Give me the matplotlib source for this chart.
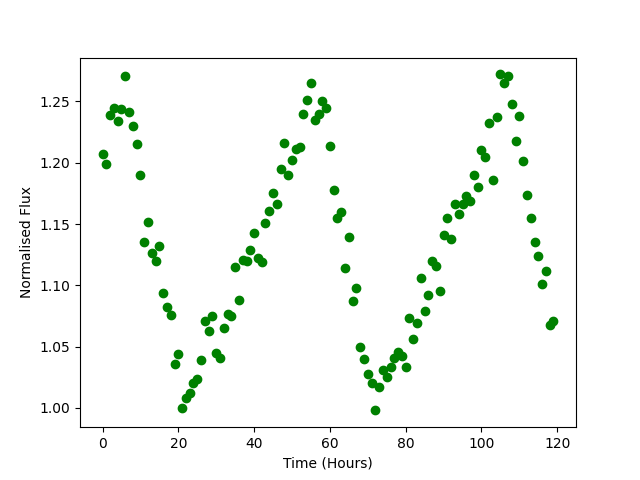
import matplotlib
matplotlib.use("Agg")
import matplotlib.pyplot as plt

# Light-curve samples (one per hour)
time_hours = list(range(120))
flux = [
    1.207, 1.199, 1.239, 1.245, 1.234, 1.244, 1.271, 1.241, 1.230, 1.215,
    1.190, 1.135, 1.152, 1.126, 1.120, 1.132, 1.094, 1.082, 1.076, 1.036,
    1.044, 1.000, 1.008, 1.012, 1.020, 1.024, 1.039, 1.071, 1.063, 1.075,
    1.045, 1.041, 1.065, 1.077, 1.075, 1.115, 1.088, 1.121, 1.120, 1.129,
    1.143, 1.122, 1.119, 1.151, 1.161, 1.175, 1.166, 1.195, 1.216, 1.190,
    1.202, 1.211, 1.213, 1.240, 1.251, 1.265, 1.235, 1.240, 1.250, 1.245,
    1.214, 1.178, 1.155, 1.160, 1.114, 1.139, 1.087, 1.098, 1.050, 1.040,
    1.028, 1.020, 0.998, 1.017, 1.031, 1.025, 1.033, 1.041, 1.046, 1.042,
    1.033, 1.073, 1.056, 1.069, 1.106, 1.079, 1.092, 1.120, 1.116, 1.095,
    1.141, 1.155, 1.138, 1.166, 1.158, 1.166, 1.173, 1.169, 1.190, 1.180,
    1.210, 1.205, 1.232, 1.186, 1.237, 1.272, 1.265, 1.271, 1.248, 1.218,
    1.238, 1.201, 1.174, 1.155, 1.135, 1.124, 1.101, 1.112, 1.068, 1.071,
]

fig, ax = plt.subplots(figsize=(6.4, 4.8), dpi=100)
ax.plot(time_hours, flux, "o", color="green")
ax.set_xlabel("Time (Hours)")
ax.set_ylabel("Normalised Flux")
fig.savefig("out.png", dpi=100)
plt.close(fig)
